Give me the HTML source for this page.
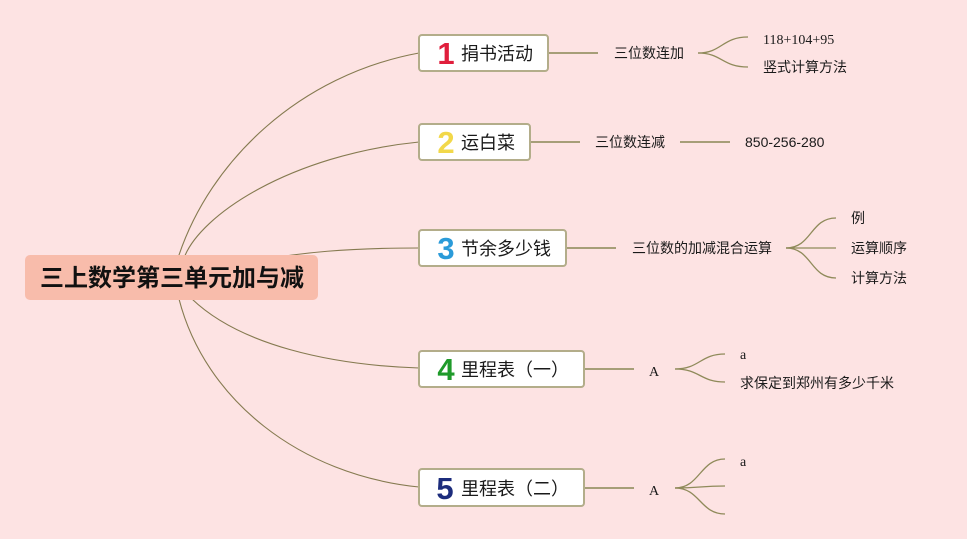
<!DOCTYPE html>
<html>
<head>
<meta charset="utf-8">
<style>
html,body{margin:0;padding:0;background:#fde3e3;}
svg{display:block;}
.cjk{font-family:"Liberation Sans","Noto Sans CJK SC",sans-serif;fill:#1a1a1a;}
.serif{font-family:"Liberation Serif","Noto Serif CJK SC",serif;fill:#1a1a1a;}
.dig{font-family:"Liberation Sans",sans-serif;font-weight:bold;}
</style>
</head>
<body>
<svg width="967" height="539" viewBox="0 0 967 539" xmlns="http://www.w3.org/2000/svg">
<rect width="967" height="539" fill="#fde3e3"/>

<!-- main curves -->
<g fill="none" stroke="#857a50" stroke-width="1.1">
  <path d="M178,258 C210,160 300,75 419,53"/>
  <path d="M184,258 C200,215 290,155 419,142"/>
  <path d="M250,262 C300,252 350,248 419,248"/>
  <path d="M192,299 C240,345 330,365 419,368"/>
  <path d="M179,299 C205,400 300,475 419,487"/>
</g>

<!-- root -->
<rect x="25" y="255" width="293" height="45" rx="5" fill="#f8bcab"/>
<text x="172" y="286" text-anchor="middle" class="cjk" font-size="24" font-weight="bold" style="fill:#111">三上数学第三单元加与减</text>

<!-- level1 connectors -->
<g stroke="#a69e78" stroke-width="2" fill="none">
  <line x1="548" y1="53" x2="598" y2="53"/>
  <line x1="530" y1="142" x2="580" y2="142"/>
  <line x1="566" y1="248" x2="616" y2="248"/>
  <line x1="584" y1="369" x2="634" y2="369"/>
  <line x1="584" y1="488" x2="634" y2="488"/>
  <line x1="680" y1="142" x2="730" y2="142"/>
</g>

<!-- sub curves -->
<g stroke="#8f8a5a" stroke-width="1.3" fill="none">
  <path d="M698,53 C722,53 722,37 748,37"/>
  <path d="M698,53 C722,53 722,67 748,67"/>
  <path d="M786,248 C812,248 810,218 836,218"/>
  <path d="M786,248 L836,248"/>
  <path d="M786,248 C812,248 810,278 836,278"/>
  <path d="M675,369 C700,369 700,354 725,354"/>
  <path d="M675,369 C700,369 700,382 725,382"/>
  <path d="M675,488 C700,488 700,459 725,459"/>
  <path d="M675,488 C700,488 700,486 725,486"/>
  <path d="M675,488 C700,488 700,514 725,514"/>
</g>

<!-- level1 boxes -->
<g fill="#ffffff" stroke="#b3ad8a" stroke-width="2">
  <rect x="419" y="35" width="129" height="36" rx="3"/>
  <rect x="419" y="124" width="111" height="36" rx="3"/>
  <rect x="419" y="230" width="147" height="36" rx="3"/>
  <rect x="419" y="351" width="165" height="36" rx="3"/>
  <rect x="419" y="469" width="165" height="37" rx="3"/>
</g>

<!-- digits -->
<text x="446" y="64" text-anchor="middle" class="dig" font-size="31" fill="#e01e3c">1</text>
<text x="446" y="153" text-anchor="middle" class="dig" font-size="31" fill="#f2d84a">2</text>
<text x="446" y="259" text-anchor="middle" class="dig" font-size="31" fill="#2b9bd9">3</text>
<text x="446" y="380" text-anchor="middle" class="dig" font-size="31" fill="#1f9a2a">4</text>
<text x="445" y="499" text-anchor="middle" class="dig" font-size="31" fill="#1c2c7c">5</text>

<!-- level1 labels -->
<text x="461" y="60" class="cjk" font-size="18">捐书活动</text>
<text x="461" y="149" class="cjk" font-size="18">运白菜</text>
<text x="461" y="255" class="cjk" font-size="18">节余多少钱</text>
<text x="461" y="376" class="cjk" font-size="18">里程表（一）</text>
<text x="461" y="495" class="cjk" font-size="18">里程表（二）</text>

<!-- level2 labels -->
<text x="614" y="58" class="cjk" font-size="14">三位数连加</text>
<text x="595" y="147" class="cjk" font-size="14">三位数连减</text>
<text x="632" y="253" class="cjk" font-size="14">三位数的加减混合运算</text>
<text x="649" y="376" class="serif" font-size="14">A</text>
<text x="649" y="495" class="serif" font-size="14">A</text>

<!-- level3 labels -->
<text x="763" y="44" class="serif" font-size="14">118+104+95</text>
<text x="763" y="72" class="cjk" font-size="14">竖式计算方法</text>
<text x="745" y="147" class="cjk" font-size="14">850-256-280</text>
<text x="851" y="223" class="cjk" font-size="14">例</text>
<text x="851" y="253" class="cjk" font-size="14">运算顺序</text>
<text x="851" y="283" class="cjk" font-size="14">计算方法</text>
<text x="740" y="359" class="serif" font-size="14">a</text>
<text x="740" y="388" class="cjk" font-size="14">求保定到郑州有多少千米</text>
<text x="740" y="466" class="serif" font-size="14">a</text>
</svg>
</body>
</html>
